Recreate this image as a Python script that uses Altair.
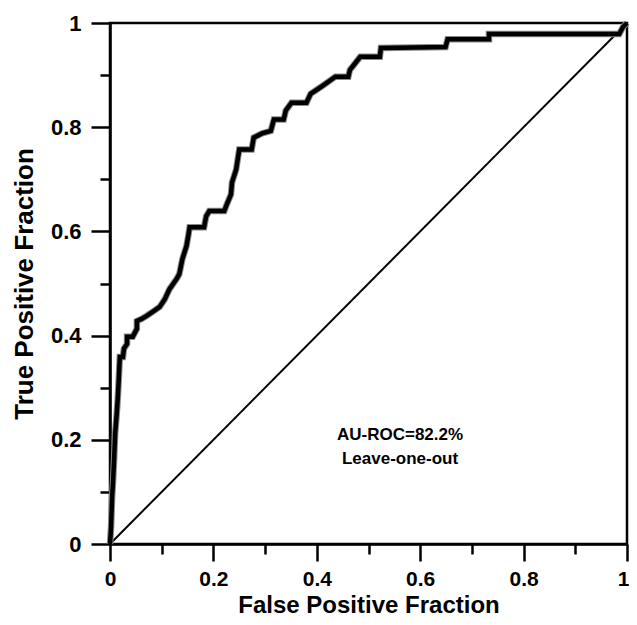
import altair as alt
import pandas as pd

# ROC curve
fpf = [0.0, 0.002, 0.004, 0.006, 0.008, 0.010, 0.013, 0.015, 0.017, 0.019, 0.025, 0.027,
       0.033, 0.033, 0.044, 0.052, 0.052, 0.061, 0.071, 0.083, 0.096, 0.106, 0.115, 0.129,
       0.134, 0.140, 0.148, 0.152, 0.154, 0.182, 0.186, 0.192, 0.221, 0.226, 0.234, 0.236,
       0.244, 0.250, 0.274, 0.278, 0.294, 0.311, 0.317, 0.336, 0.340, 0.351, 0.380, 0.388,
       0.409, 0.436, 0.461, 0.464, 0.484, 0.522, 0.524, 0.649, 0.653, 0.733, 0.733, 0.985,
       0.992, 1.0]
tpf = [0.0, 0.031, 0.088, 0.122, 0.164, 0.212, 0.250, 0.279, 0.317, 0.359, 0.359, 0.375,
       0.384, 0.398, 0.398, 0.413, 0.428, 0.432, 0.438, 0.446, 0.455, 0.470, 0.489, 0.509,
       0.518, 0.547, 0.572, 0.595, 0.608, 0.608, 0.629, 0.639, 0.639, 0.652, 0.671, 0.694,
       0.719, 0.757, 0.757, 0.780, 0.788, 0.793, 0.815, 0.815, 0.832, 0.847, 0.847, 0.864,
       0.878, 0.897, 0.897, 0.910, 0.935, 0.935, 0.952, 0.954, 0.969, 0.969, 0.979, 0.979,
       0.992, 1.0]

diag_x = [0.0, 1.0]
diag_y = [0.0, 1.0]

ann_text = ["AU-ROC=82.2%", "Leave-one-out"]
ann_x = [0.561, 0.561]
ann_y = [0.200, 0.154]

tick_values = [0.0, 0.1, 0.2, 0.3, 0.4, 0.5, 0.6, 0.7, 0.8, 0.9, 1.0]

roc = pd.DataFrame({"x": fpf, "y": tpf, "i": list(range(len(fpf)))})
diag = pd.DataFrame({"x": diag_x, "y": diag_y})
ann = pd.DataFrame({"x": ann_x, "y": ann_y, "t": ann_text})

FONT = "Liberation Sans"
major = "round(datum.value*10) % 2 == 0"
label_expr = "round(datum.value*10) % 2 == 0 ? format(datum.value, '~g') : ''"
x_tick_size = {"condition": {"test": major, "value": 17}, "value": 10}
y_tick_size = {"condition": {"test": major, "value": 19}, "value": 10}

W, H = 517, 521

xscale = alt.Scale(domain=[0, 1], nice=False, zero=False)
yscale = alt.Scale(domain=[0, 1], nice=False, zero=False)

x_axis = alt.Axis(values=tick_values, tickSize=x_tick_size, labelExpr=label_expr,
                  labelOffset={"condition": {"test": "datum.value == 1", "value": -4}, "value": 0},
                  title="False Positive Fraction", titleX=W / 2, titleY=68,
                  titleBaseline="alphabetic", titleAlign="center",
                  labelPadding=7, labelFlush=False, labelFontSize=21, titleFontSize=24)
y_axis = alt.Axis(values=tick_values, tickSize=y_tick_size, labelExpr=label_expr,
                  title="True Positive Fraction", titleX=-78, titleY=H / 2,
                  titleAngle=-90, titleBaseline="alphabetic", titleAlign="center",
                  labelPadding=10, labelFlush=False)

diag_line = alt.Chart(diag).mark_line(color="black", strokeWidth=2).encode(
    x=alt.X("x:Q", scale=xscale, axis=x_axis),
    y=alt.Y("y:Q", scale=yscale, axis=y_axis),
)

roc_shadow = alt.Chart(roc).mark_line(color="#8a8a8a", strokeWidth=6.5, strokeJoin="miter").encode(
    x="x:Q", y="y:Q", order="i:Q"
)
roc_line = alt.Chart(roc).mark_line(color="black", strokeWidth=4.5, strokeJoin="miter").encode(
    x="x:Q", y="y:Q", order="i:Q"
)

text = alt.Chart(ann).mark_text(font=FONT, fontSize=17, fontWeight="bold",
                                 color="black", align="center", baseline="alphabetic").encode(
    x="x:Q", y="y:Q", text="t:N"
)

chart = alt.layer(diag_line, roc_shadow, roc_line, text).properties(
    width=W, height=H,
    autosize=alt.AutoSizeParams(type="none"),
    padding={"left": 102, "top": 15, "right": 2, "bottom": 73},
    background="white",
).configure_view(
    stroke="black", strokeWidth=2.5
).configure_axis(
    grid=False,
    domainColor="black", domainWidth=2.5,
    tickColor="black", tickWidth=2.5,
    labelFont=FONT, labelFontSize=22, labelFontWeight="bold", labelColor="black",
    titleFont=FONT, titleFontSize=26, titleFontWeight="bold", titleColor="black",
)

chart.save("out.html", embed_options={"renderer": "svg", "actions": False})
